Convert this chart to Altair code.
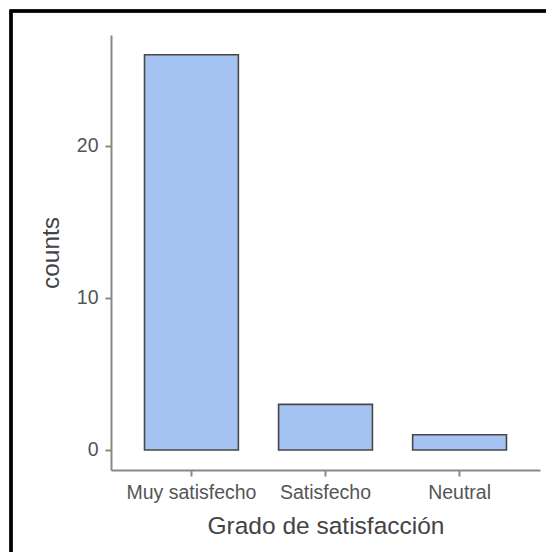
import altair as alt
import pandas as pd

categories = ["Muy satisfecho", "Satisfecho", "Neutral"]
counts = [26, 3, 1]

df = pd.DataFrame({"grado": categories, "counts": counts})

FONT = "Liberation Sans"

bars = alt.Chart(df).mark_bar(
    fill="#a5c3f1", stroke="#474747", strokeWidth=1.6
).encode(
    x=alt.X("grado:N", sort=categories, title="Grado de satisfacción",
            scale=alt.Scale(paddingInner=0.3, paddingOuter=0.25),
            axis=alt.Axis(labelAngle=0, labelFontSize=19.5, labelColor="#555555",
                          titleFontSize=24.5, titleColor="#444444", titleFontWeight="normal",
                          titlePadding=13, labelPadding=7, tickSize=6,
                          domainColor="#888888", domainWidth=2, tickColor="#888888",
                          tickWidth=2, labelFont=FONT, titleFont=FONT)),
    y=alt.Y("counts:Q", title="counts",
            scale=alt.Scale(domain=[-1.32, 27.3], nice=False, zero=False),
            axis=alt.Axis(values=[0, 10, 20], labelFontSize=19.5, labelColor="#555555",
                          titleFontSize=24.5, titleColor="#444444", titleFontWeight="normal",
                          titlePadding=13, labelPadding=7, tickSize=6, grid=False,
                          domainColor="#888888", domainWidth=2, tickColor="#888888",
                          tickWidth=2, labelFont=FONT, titleFont=FONT)),
    y2=alt.datum(0),
)

frame = alt.Chart(df).mark_rect(
    fill=None, stroke="black", strokeWidth=3, clip=False
).encode(
    x=alt.value(-100), x2=alt.value(480), y=alt.value(-24), y2=alt.value(560)
)

chart = alt.layer(frame, bars).properties(
    width=429, height=435,
    autosize=alt.AutoSizeParams(type="none"),
    padding={"left": 103, "top": 27, "right": 6, "bottom": 82},
).configure_view(stroke=None)

chart.save("out.html", embed_options={"renderer": "svg", "actions": False})
